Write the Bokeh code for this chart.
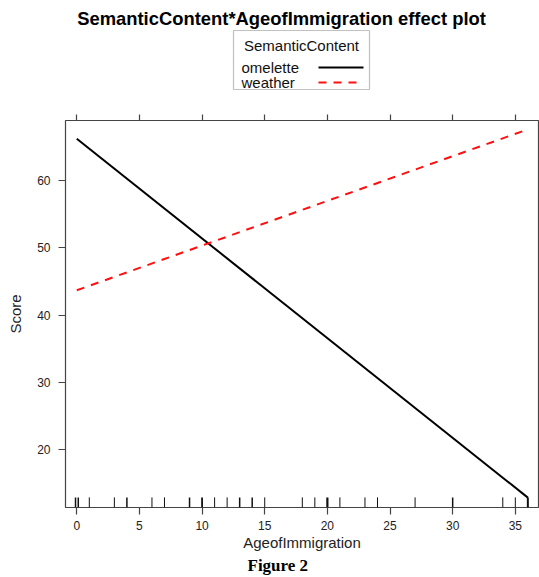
from bokeh.plotting import figure
from bokeh.layouts import column
from bokeh.models import (ColumnDataSource, LinearAxis, FixedTicker, Title,
                          Range1d, Label, BoxAnnotation, Arrow)
from bokeh.embed import file_html
from bokeh.resources import INLINE

# ---- data ----
age = [0, 36]
omelette = [66.2, 12.9]
weather = [43.7, 67.6]
rug_x = [-0.1, 0.12, 1, 3, 4, 6, 7, 9, 10, 11, 12, 13, 14, 15, 18, 19, 20,
         21, 23, 24, 27, 30, 34, 35, 36]
rug_w = [1.5, 1.5, 1, 1, 1.5, 1, 1, 1.5, 1.8, 1, 1, 1.5, 1.5, 1, 1, 1, 2.2,
         1, 1, 1, 1, 1.5, 1, 1, 2]
x_ticks = [0, 5, 10, 15, 20, 25, 30, 35]
y_ticks = [20, 30, 40, 50, 60]
series_names = ["omelette", "weather"]
series_colors = ["black", "#ff1010"]
series_dash = ["solid", "8 7"]

FONT = "Liberation Sans"
AX = "#444444"
TOP_H = 105

# ---------- header figure: title + legend ----------
h = figure(width=539, height=TOP_H, output_backend="svg", toolbar_location=None,
           x_range=Range1d(0, 1), y_range=Range1d(0, 1),
           min_border_left=0, min_border_right=0, min_border_top=0,
           min_border_bottom=0, x_axis_location=None, y_axis_location=None)
h.grid.visible = False
h.outline_line_color = None

def lab(text, x, y, size, align="left", style="normal", color="#111111"):
    h.add_layout(Label(x=x, y=y, x_units="screen", y_units="screen", text=text,
                       text_font=FONT, text_font_size=size,
                       text_font_style=style, text_color=color,
                       text_align=align, text_baseline="middle"))

lab("SemanticContent*AgeofImmigration effect plot", 216, TOP_H - 18, "18.4px",
    align="center", style="bold", color="black")

# legend (label left, line sample right, as in the reference)
h.add_layout(BoxAnnotation(left=168, right=304, top=TOP_H - 30,
                           bottom=TOP_H - 89,
                           left_units="screen", right_units="screen",
                           top_units="screen", bottom_units="screen",
                           fill_color=None, line_color="#333333",
                           line_width=1.2))
lab("SemanticContent", 236, TOP_H - 45, "15px", align="center")
for i, (name, col, dash) in enumerate(zip(series_names, series_colors,
                                           series_dash)):
    yy = TOP_H - 67 - 15 * i
    lab(name, 176, yy, "15px")
    h.add_layout(Arrow(x_start=253, y_start=yy, x_end=298, y_end=yy,
                       start_units="screen", end_units="screen", end=None,
                       line_color=col, line_width=2, line_dash=dash))

# ---------- main figure ----------
p = figure(width=539, height=577 - TOP_H, output_backend="svg",
           toolbar_location=None,
           x_range=Range1d(-0.9, 36.85), y_range=Range1d(11.43, 68.92),
           min_border_left=65, min_border_right=1, min_border_top=15,
           min_border_bottom=70, x_axis_location=None, y_axis_location=None)
p.grid.visible = False
p.outline_line_color = AX
p.outline_line_width = 1.2
p.background_fill_color = "white"
p.border_fill_color = "white"

def style_axis(ax):
    ax.axis_line_color = None
    ax.major_tick_line_color = AX
    ax.major_tick_line_width = 1.2
    ax.minor_tick_line_color = None
    ax.major_tick_in = 0
    ax.major_tick_out = 7
    ax.major_label_text_font = FONT
    ax.major_label_text_font_size = "12px"
    ax.major_label_text_color = "#222222"
    ax.axis_label_text_font = FONT
    ax.axis_label_text_font_size = "15px"
    ax.axis_label_text_font_style = "normal"
    ax.axis_label_text_color = "#222222"

xb = LinearAxis(ticker=FixedTicker(ticks=x_ticks), axis_label="AgeofImmigration")
style_axis(xb)
xb.major_label_standoff = 6
xb.axis_label_standoff = 1
p.add_layout(xb, "below")

xt = LinearAxis(ticker=FixedTicker(ticks=x_ticks),
                major_label_overrides={t: "" for t in x_ticks})
style_axis(xt)
xt.major_tick_out = 6
xt.major_label_standoff = 0
p.add_layout(xt, "above")

yl = LinearAxis(ticker=FixedTicker(ticks=y_ticks), axis_label="Score")
style_axis(yl)
yl.major_tick_out = 7
yl.major_label_standoff = 8
yl.major_label_orientation = "horizontal"
yl.axis_label_standoff = 10
p.add_layout(yl, "left")

# rug
y0 = p.y_range.start
rug_src = ColumnDataSource(dict(x=rug_x, w=rug_w,
                                y0=[y0] * len(rug_x),
                                y1=[y0 + 1.5] * len(rug_x)))
p.segment(x0="x", y0="y0", x1="x", y1="y1", line_width="w",
          line_color="#111111", source=rug_src)

# effect lines
p.line(age, omelette, line_color=series_colors[0], line_width=2,
       line_dash=series_dash[0])
p.line(age, weather, line_color=series_colors[1], line_width=2,
       line_dash=series_dash[1])

caption = Title(text="Figure 2", text_font="Liberation Serif",
                text_font_size="17px", text_font_style="bold",
                text_color="black", align="left", offset=182, standoff=0)
p.add_layout(caption, "below")

layout = column(h, p, spacing=0)
open("out.html", "w").write(file_html(layout, INLINE))
